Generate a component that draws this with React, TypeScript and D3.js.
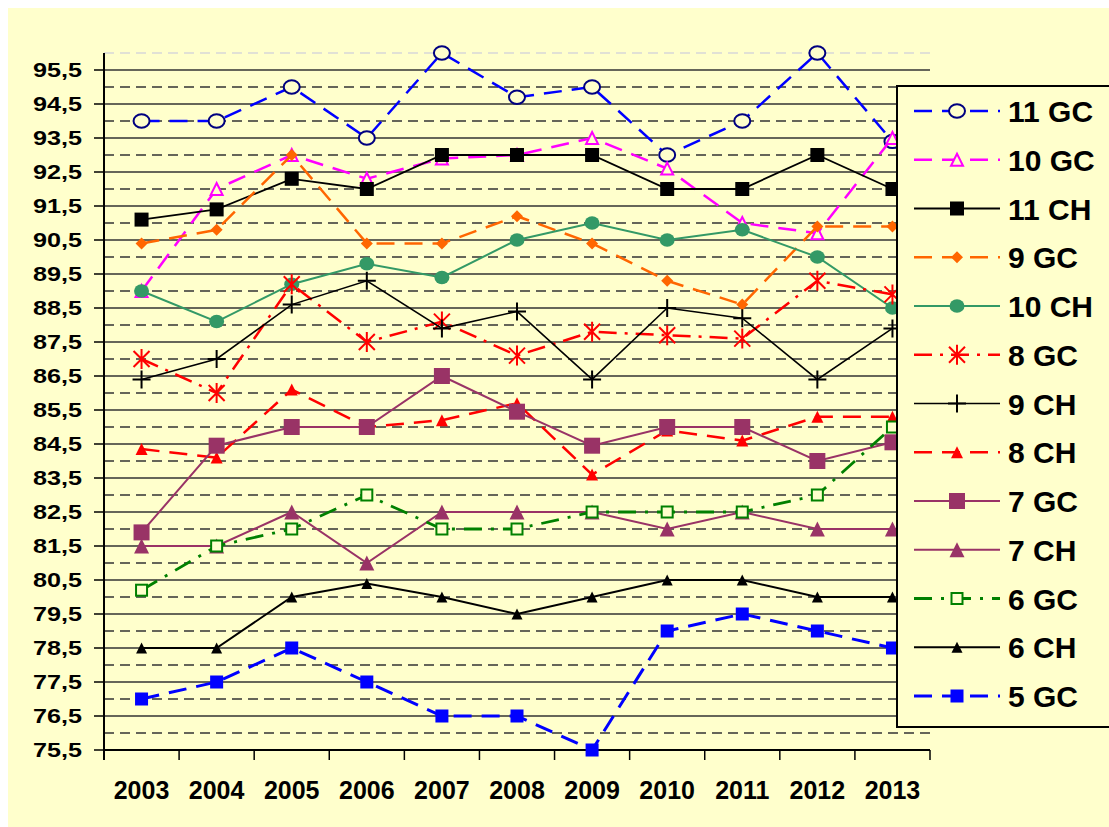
import React from "react";
import * as d3 from "d3";

const years = ["2003", "2004", "2005", "2006", "2007", "2008", "2009", "2010", "2011", "2012", "2013"];
const yTickLabels = [95.5, 94.5, 93.5, 92.5, 91.5, 90.5, 89.5, 88.5, 87.5, 86.5, 85.5, 84.5, 83.5, 82.5, 81.5, 80.5, 79.5, 78.5, 77.5, 76.5, 75.5];

const s11GC = [94, 94, 95, 93.5, 96, 94.7, 95, 93, 94, 96, 93.4];
const s10GC = [89, 92, 93, 92.3, 92.9, 93, 93.5, 92.6, 91, 90.7, 93.5];
const s11CH = [91.1, 91.4, 92.3, 92, 93, 93, 93, 92, 92, 93, 92];
const s9GC = [90.4, 90.8, 93, 90.4, 90.4, 91.2, 90.4, 89.3, 88.6, 90.9, 90.9];
const s10CH = [89, 88.1, 89.2, 89.8, 89.4, 90.5, 91, 90.5, 90.8, 90, 88.5];
const s8GC = [87, 86, 89.2, 87.5, 88.1, 87.1, 87.8, 87.7, 87.6, 89.3, 88.9];
const s9CH = [86.4, 87, 88.6, 89.3, 87.9, 88.4, 86.4, 88.5, 88.2, 86.4, 87.9];
const s8CH = [84.35, 84.1, 86.1, 85, 85.2, 85.7, 83.6, 84.9, 84.6, 85.3, 85.3];
const s7GC = [81.9, 84.45, 85, 85, 86.5, 85.45, 84.45, 85, 85, 84, 84.55];
const s7CH = [81.5, 81.5, 82.5, 81, 82.5, 82.5, 82.5, 82, 82.5, 82, 82];
const s6GC = [80.2, 81.5, 82, 83, 82, 82, 82.5, 82.5, 82.5, 83, 85];
const s6CH = [78.5, 78.5, 80, 80.4, 80, 79.5, 80, 80.5, 80.5, 80, 80];
const s5GC = [77, 77.5, 78.5, 77.5, 76.5, 76.5, 75.5, 79, 79.5, 79, 78.5];

const seriesNames = ["11 GC", "10 GC", "11 CH", "9 GC", "10 CH", "8 GC", "9 CH", "8 CH", "7 GC", "7 CH", "6 GC", "6 CH", "5 GC"];
const seriesValues = [s11GC, s10GC, s11CH, s9GC, s10CH, s8GC, s9CH, s8CH, s7GC, s7CH, s6GC, s6CH, s5GC];

type Style = { color: string; width: number; dash?: string; marker: string; mColor: string; size: number };
const styles: Style[] = [
  { color: "#0000FF", width: 2.5, dash: "18,10", marker: "openCircle", mColor: "#000080", size: 8 },
  { color: "#FF00FF", width: 2.5, dash: "18,10", marker: "openTriangle", mColor: "#FF00FF", size: 14 },
  { color: "#000000", width: 1.8, marker: "square", mColor: "#000000", size: 14 },
  { color: "#FF6600", width: 2.5, dash: "18,10", marker: "diamond", mColor: "#FF6600", size: 12 },
  { color: "#339966", width: 2, marker: "circle", mColor: "#339966", size: 7.5 },
  { color: "#FF0000", width: 2.5, dash: "18,8,3,8", marker: "asterisk", mColor: "#FF0000", size: 20 },
  { color: "#000000", width: 1.6, marker: "plus", mColor: "#000000", size: 18 },
  { color: "#FF0000", width: 2.5, dash: "18,10", marker: "triangle", mColor: "#FF0000", size: 12 },
  { color: "#993366", width: 2, marker: "square", mColor: "#993366", size: 16 },
  { color: "#993366", width: 2, marker: "triangle", mColor: "#993366", size: 15 },
  { color: "#008000", width: 2.8, dash: "18,9,3,9", marker: "openSquare", mColor: "#008000", size: 13 },
  { color: "#000000", width: 2, marker: "triangle", mColor: "#000000", size: 11 },
  { color: "#0000FF", width: 3, dash: "18,10", marker: "square", mColor: "#0000FF", size: 13 },
];

const BG = "#FFFFCC";

function Marker({ type, x, y, color, size }: { type: string; x: number; y: number; color: string; size: number }) {
  const s = size;
  const h = s / 2;
  switch (type) {
    case "openCircle":
      return <ellipse cx={x} cy={y} rx={s} ry={s * 0.84} fill={BG} stroke={color} strokeWidth={2} />;
    case "circle":
      return <ellipse cx={x} cy={y} rx={s} ry={s * 0.9} fill={color} />;
    case "square":
      return <rect x={x - h} y={y - h} width={s} height={s} fill={color} />;
    case "openSquare":
      return <rect x={x - h + 1} y={y - h + 1} width={s - 2} height={s - 2} fill={BG} stroke={color} strokeWidth={2} />;
    case "diamond":
      return <path d={`M${x},${y - h}L${x + h},${y}L${x},${y + h}L${x - h},${y}Z`} fill={color} />;
    case "triangle":
      return <path d={`M${x},${y - h}L${x + h},${y + h}L${x - h},${y + h}Z`} fill={color} />;
    case "openTriangle":
      return (
        <path d={`M${x},${y - h + 1}L${x + h - 1},${y + h - 1}L${x - h + 1},${y + h - 1}Z`} fill={BG} stroke={color} strokeWidth={2} />
      );
    case "plus":
      return (
        <path d={`M${x - h},${y}L${x + h},${y}M${x},${y - h}L${x},${y + h}`} stroke={color} strokeWidth={2} fill="none" />
      );
    case "asterisk":
      return (
        <path
          d={`M${x - h * 0.8},${y - h * 0.8}L${x + h * 0.8},${y + h * 0.8}M${x + h * 0.8},${y - h * 0.8}L${x - h * 0.8},${y + h * 0.8}M${x},${y - h}L${x},${y + h}`}
          stroke={color}
          strokeWidth={2}
          fill="none"
        />
      );
    default:
      return null;
  }
}

export default function App() {
  const left = 104;
  const right = 930;
  const x = d3.scaleBand<string>().domain(years).range([left, right]);
  const bw = x.bandwidth();
  const cx = (yr: string) => (x(yr) as number) + bw / 2;
  const y = d3.scaleLinear().domain([75.5, 96]).range([750, 53]);
  const line = d3
    .line<number>()
    .x((_, i) => cx(years[i]))
    .y((v) => y(v));

  const majors = d3.range(75.5, 95.51, 1);
  const minors = d3.range(76, 96.01, 1);
  const font = "'Liberation Sans', Arial, Helvetica, sans-serif";

  const legX = 897;
  const legY = 86;
  const legStep = 48.75;

  return (
    <div style={{ position: "fixed", left: 0, top: 0, width: 1109, height: 827, background: "#fff" }}>
      <svg width={1109} height={827} style={{ display: "block" }}>
        <rect x={8} y={8} width={1101} height={819} fill={BG} />
        {/* gridlines */}
        {minors.map((v) => (
          <line
            key={"mi" + v}
            x1={left}
            x2={right}
            y1={y(v)}
            y2={y(v)}
            stroke={v >= 96 ? "#d8d8d8" : "#333"}
            strokeWidth={1.3}
            strokeDasharray="10,6"
          />
        ))}
        {majors.map((v) => (
          <line key={"ma" + v} x1={left} x2={right} y1={y(v)} y2={y(v)} stroke="#333" strokeWidth={1.3} />
        ))}
        {/* y axis */}
        <line x1={left} x2={left} y1={y(96)} y2={y(75.5) + 10} stroke="#000" strokeWidth={2} />
        {yTickLabels.map((v) => (
          <g key={"yt" + v}>
            <line x1={left - 10} x2={left} y1={y(v)} y2={y(v)} stroke="#000" strokeWidth={1.5} />
            <text
              x={82}
              y={y(v) + 7}
              textAnchor="end"
              fontFamily={font}
              fontWeight="bold"
              fontSize={21}
              textLength={49}
              lengthAdjust="spacingAndGlyphs"
              fill="#000"
            >
              {String(v).replace(".", ",")}
            </text>
          </g>
        ))}
        {/* x axis */}
        <line x1={left} x2={right} y1={y(75.5)} y2={y(75.5)} stroke="#000" strokeWidth={2} />
        {d3.range(0, years.length + 1).map((i) => (
          <line key={"xt" + i} x1={left + i * bw} x2={left + i * bw} y1={y(75.5)} y2={y(75.5) + 10} stroke="#000" strokeWidth={1.5} />
        ))}
        {years.map((yr) => (
          <text key={yr} x={cx(yr)} y={799} textAnchor="middle" fontFamily={font} fontWeight="bold" fontSize={25} fill="#000">
            {yr}
          </text>
        ))}
        {/* series */}
        {seriesValues.map((vals, si) => {
          const st = styles[si];
          return (
            <g key={seriesNames[si]}>
              <path d={line(vals) || ""} fill="none" stroke={st.color} strokeWidth={st.width} strokeDasharray={st.dash} />
              {vals.map((v, i) => (
                <Marker key={i} type={st.marker} x={cx(years[i])} y={y(v)} color={st.mColor} size={st.size} />
              ))}
            </g>
          );
        })}
        {/* legend */}
        <rect x={legX} y={legY} width={240} height={641} fill={BG} stroke="#000" strokeWidth={2} />
        {seriesNames.map((name, i) => {
          const st = styles[i];
          const ly = 111 + i * legStep;
          return (
            <g key={"lg" + name}>
              <line x1={914} x2={1000} y1={ly} y2={ly} stroke={st.color} strokeWidth={st.width} strokeDasharray={st.dash} />
              <Marker type={st.marker} x={957} y={ly} color={st.mColor} size={st.size} />
              <text x={1008} y={ly + 11} fontFamily={font} fontWeight="bold" fontSize={30} fill="#000">
                {name}
              </text>
            </g>
          );
        })}
      </svg>
    </div>
  );
}
